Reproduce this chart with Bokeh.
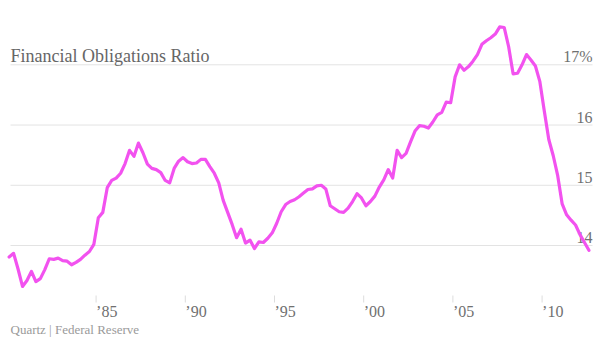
from bokeh.plotting import figure
from bokeh.models import Range1d, Label
from bokeh.core.properties import value
from bokeh.embed import file_html
from bokeh.resources import INLINE

# ---- data: Financial Obligations Ratio (%), quarterly from 1980 Q1 ----
start_year = 1980
ratio = [
    13.81, 13.87, 13.61, 13.32, 13.42, 13.57, 13.40, 13.45,   # 1980-81
    13.60, 13.78, 13.77, 13.79, 13.75, 13.74, 13.68, 13.72,   # 1982-83
    13.77, 13.84, 13.90, 14.02, 14.46, 14.55, 14.96, 15.08,   # 1984-85
    15.12, 15.20, 15.36, 15.58, 15.48, 15.70, 15.54, 15.35,   # 1986-87
    15.28, 15.26, 15.21, 15.08, 15.04, 15.28, 15.40, 15.46,   # 1988-89
    15.39, 15.36, 15.37, 15.43, 15.43, 15.31, 15.20, 15.04,   # 1990-91
    14.75, 14.55, 14.35, 14.13, 14.27, 14.04, 14.09, 13.95,   # 1992-93
    14.06, 14.05, 14.12, 14.21, 14.37, 14.56, 14.68, 14.73,   # 1994-95
    14.76, 14.81, 14.87, 14.93, 14.94, 14.99, 15.00, 14.94,   # 1996-97
    14.66, 14.61, 14.56, 14.55, 14.62, 14.73, 14.86, 14.79,   # 1998-99
    14.66, 14.73, 14.82, 14.97, 15.09, 15.26, 15.12, 15.58,   # 2000-01
    15.46, 15.53, 15.72, 15.90, 15.99, 15.98, 15.95, 16.05,   # 2002-03
    16.17, 16.21, 16.38, 16.37, 16.80, 17.00, 16.91, 16.97,   # 2004-05
    17.06, 17.17, 17.34, 17.40, 17.45, 17.51, 17.63, 17.62,   # 2006-07
    17.30, 16.85, 16.86, 17.00, 17.17, 17.08, 16.98, 16.72,   # 2008-09
    16.23, 15.76, 15.49, 15.16, 14.69, 14.51, 14.42, 14.34,   # 2010-11
    14.18, 14.05, 13.92,                                      # 2012
]
quarters = [start_year + (i + 0.5) / 4 for i in range(len(ratio))]

y_ticks = [14, 15, 16, 17]
y_tick_labels = ["14", "15", "16", "17%"]
x_ticks = [1985, 1990, 1995, 2000, 2005, 2010]
x_tick_labels = ["\u201985", "\u201990", "\u201995", "\u201900", "\u201905", "\u201910"]

title_text = "Financial Obligations Ratio"
source_text = "Quartz | Federal Reserve"

# ---- layout ----
W, H = 600, 338
PX_PER_YEAR = 17.84
PX_1985 = 95.6
PX_PER_PCT = 60.23
PX_14 = 245.0  # pixel row (from top) of the 14% gridline


def x_at(px):
    return 1985 + (px - PX_1985) / PX_PER_YEAR


def y_at(py):
    return 14 + (PX_14 - py) / PX_PER_PCT


FONT = value("Liberation Serif")
LINE_COLOR = "#f252ef"

p = figure(width=W, height=H, output_backend="svg", toolbar_location=None,
           x_axis_type=None, y_axis_type=None, min_border=0,
           x_range=Range1d(x_at(0), x_at(W)), y_range=Range1d(y_at(H), y_at(0)))
p.outline_line_color = None
p.grid.visible = False
p.background_fill_color = "white"
p.border_fill_color = "white"

# horizontal gridlines
gx0, gx1 = x_at(10), x_at(592)
p.segment(x0=[gx0] * len(y_ticks), x1=[gx1] * len(y_ticks), y0=y_ticks, y1=y_ticks,
          line_color="#e3e3e3", line_width=1)

# y tick labels (right aligned, sitting on gridlines)
p.text(x=[gx1] * len(y_ticks), y=y_ticks, text=y_tick_labels,
       text_align="right", text_baseline="alphabetic", y_offset=-8,
       text_font=FONT, text_font_size="16px", text_color="#707070")

# x tick marks and labels
p.segment(x0=x_ticks, x1=x_ticks, y0=[y_at(295)] * len(x_ticks), y1=[y_at(302)] * len(x_ticks),
          line_color="#dddddd", line_width=1)
p.text(x=x_ticks, y=[y_at(311)] * len(x_ticks), text=x_tick_labels,
       text_align="left", text_baseline="alphabetic",
       text_font=FONT, text_font_size="16px", text_color="#707070")

# data line
p.line(quarters, ratio, line_color=LINE_COLOR, line_width=3.2,
       line_join="round", line_cap="round")

# title and source
p.add_layout(Label(x=10, y=H - 55, x_units="screen", y_units="screen", text=title_text,
                   text_font="Liberation Serif", text_font_size="18px", text_color="#666666",
                   text_baseline="alphabetic"))
p.add_layout(Label(x=10, y=H - 329, x_units="screen", y_units="screen", text=source_text,
                   text_font="Liberation Serif", text_font_size="13px", text_color="#9a9a9a",
                   text_baseline="alphabetic"))

open("out.html", "w").write(file_html(p, INLINE))
